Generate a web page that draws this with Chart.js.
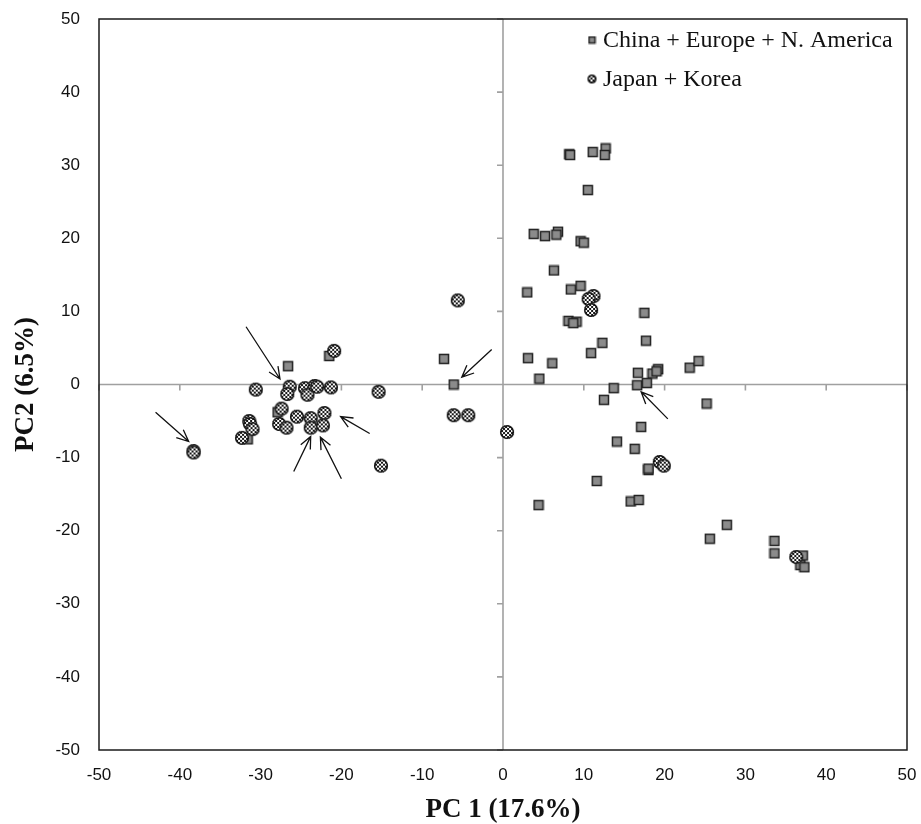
<!DOCTYPE html>
<html>
<head>
<meta charset="utf-8">
<script src="https://cdn.jsdelivr.net/npm/chart.js@4.4.1/dist/chart.umd.min.js"></script>
<style>
html, body { margin: 0; padding: 0; background: #fff; }
#wrap { width: 921px; height: 824px; }
</style>
</head>
<body>
<div id="wrap"><canvas id="pcaChart"></canvas></div>
<script>
// series names
var seriesNames = ["China + Europe + N. America", "Japan + Korea"];

// China + Europe + N. America (squares)
var westX = [-26.6, -21.5, -27.9, -31.6, -7.3, -6.1,
  8.2, 8.3, 11.1, 12.7, 12.6, 10.5,
  3.8, 5.2, 6.8, 6.6, 9.6, 10.0, 6.3,
  3.0, 8.4, 9.6, 17.5, 8.1, 9.1, 8.7,
  12.3, 17.7, 3.1, 6.1, 10.9, 4.5, 16.7, 18.5, 19.2, 19.0, 23.1, 24.2,
  13.7, 16.6, 17.8, 12.5, 25.2, 17.1, 14.1, 16.3,
  18.0, 18.0, 11.6, 15.8, 16.8, 4.4,
  27.7, 25.6, 33.6, 33.6, 37.1, 36.8, 37.3];
var westY = [2.5, 3.9, -3.8, -7.5, 3.5, 0.0,
  31.5, 31.4, 31.8, 32.3, 31.4, 26.6,
  20.6, 20.3, 20.9, 20.5, 19.6, 19.4, 15.6,
  12.6, 13.0, 13.5, 9.8, 8.7, 8.6, 8.4,
  5.7, 6.0, 3.6, 2.9, 4.3, 0.8, 1.6, 1.5, 2.1, 1.8, 2.3, 3.2,
  -0.5, -0.1, 0.2, -2.1, -2.6, -5.8, -7.8, -8.8,
  -11.7, -11.5, -13.2, -16.0, -15.8, -16.5,
  -19.2, -21.1, -21.4, -23.1, -23.4, -24.7, -25.0];

// Japan + Korea (checkered circles)
var eastX = [-5.6, -20.9, -30.6, -26.4, -26.7, -24.5, -24.2, -23.3, -23.0, -21.3,
  -15.4, -6.1, -4.3, 0.5, -27.4, -25.5, -23.8, -22.1, -27.7, -26.8,
  -23.8, -22.3, -31.4, -31.3, -31.0, -32.3, -15.1, -38.3, -38.3,
  11.2, 10.6, 10.9, 19.4, 19.9, 36.3];
var eastY = [11.5, 4.6, -0.7, -0.3, -1.3, -0.5, -1.4, -0.2, -0.3, -0.4,
  -1.0, -4.2, -4.2, -6.5, -3.3, -4.4, -4.6, -3.9, -5.4, -5.9,
  -5.9, -5.6, -5.0, -5.4, -6.1, -7.3, -11.1, -9.1, -9.3,
  12.1, 11.7, 10.2, -10.6, -11.1, -23.6];

// annotation arrows (data units): tail -> head
var arrowFromX = [-31.8, -1.4, -16.5, -25.9, -20.0, -43.0, 20.4];
var arrowFromY = [7.9, 4.8, -6.7, -11.9, -12.9, -3.8, -4.7];
var arrowToX = [-27.6, -5.1, -20.1, -23.8, -22.6, -38.9, 17.1];
var arrowToY = [0.75, 1.0, -4.4, -7.1, -7.2, -7.8, -1.0];

var axisTicks = [-50, -40, -30, -20, -10, 0, 10, 20, 30, 40, 50];

function toPoints(xs, ys) {
  return xs.map(function (x, i) { return { x: x, y: ys[i] }; });
}

function makeSquare(size) {
  var c = document.createElement("canvas");
  c.width = size + 2; c.height = size + 2;
  var g = c.getContext("2d");
  g.fillStyle = "#8b8b8b";
  g.fillRect(1, 1, size, size);
  g.strokeStyle = "#222";
  g.lineWidth = 1.5;
  g.strokeRect(1.5, 1.5, size - 1, size - 1);
  return c;
}

function makeChecker(d) {
  var s = d + 2;
  var c = document.createElement("canvas");
  c.width = s; c.height = s;
  var g = c.getContext("2d");
  g.save();
  g.beginPath();
  g.arc(s / 2, s / 2, d / 2, 0, Math.PI * 2);
  g.clip();
  g.fillStyle = "#fff";
  g.fillRect(0, 0, s, s);
  g.fillStyle = "#161616";
  for (var i = 0; i < s; i += 2) {
    for (var j = 0; j < s; j += 2) {
      if (((i + j) / 2) % 2 === 0) g.fillRect(i, j, 2, 2);
    }
  }
  g.restore();
  g.beginPath();
  g.arc(s / 2, s / 2, d / 2 - 0.7, 0, Math.PI * 2);
  g.lineWidth = 1.6;
  g.strokeStyle = "#141414";
  g.stroke();
  return c;
}

var squareImg = makeSquare(10);
var circleImg = makeChecker(14);
var squareSmall = makeSquare(7);
var circleSmall = makeChecker(9);

var decorPlugin = {
  id: "decor",
  beforeDatasetsDraw: function (chart) {
    var ctx = chart.ctx, a = chart.chartArea;
    var sx = chart.scales.x, sy = chart.scales.y;
    var x0 = sx.getPixelForValue(0), y0 = sy.getPixelForValue(0);
    ctx.save();
    ctx.strokeStyle = "#a0a0a0";
    ctx.lineWidth = 1.6;
    ctx.beginPath();
    ctx.moveTo(a.left, y0); ctx.lineTo(a.right, y0);
    ctx.moveTo(x0, a.top); ctx.lineTo(x0, a.bottom);
    axisTicks.forEach(function (v) {
      var px = sx.getPixelForValue(v), py = sy.getPixelForValue(v);
      ctx.moveTo(px, y0); ctx.lineTo(px, y0 + 6);
      ctx.moveTo(x0 - 6, py); ctx.lineTo(x0, py);
    });
    ctx.stroke();
    ctx.restore();
  },
  afterDatasetsDraw: function (chart) {
    var ctx = chart.ctx, a = chart.chartArea;
    var sx = chart.scales.x, sy = chart.scales.y;
    ctx.save();
    // arrows
    ctx.strokeStyle = "#111";
    ctx.lineWidth = 1.3;
    for (var i = 0; i < arrowFromX.length; i++) {
      var x1 = sx.getPixelForValue(arrowFromX[i]), y1 = sy.getPixelForValue(arrowFromY[i]);
      var x2 = sx.getPixelForValue(arrowToX[i]), y2 = sy.getPixelForValue(arrowToY[i]);
      var ang = Math.atan2(y2 - y1, x2 - x1), hl = 13, spread = 0.42;
      ctx.beginPath();
      ctx.moveTo(x1, y1); ctx.lineTo(x2, y2);
      ctx.moveTo(x2 - hl * Math.cos(ang - spread), y2 - hl * Math.sin(ang - spread));
      ctx.lineTo(x2, y2);
      ctx.lineTo(x2 - hl * Math.cos(ang + spread), y2 - hl * Math.sin(ang + spread));
      ctx.stroke();
    }
    // frame
    ctx.strokeStyle = "#1a1a1a";
    ctx.lineWidth = 1.5;
    ctx.strokeRect(a.left, a.top, a.right - a.left, a.bottom - a.top);
    // legend
    var lx = a.right - 315, ly = a.top + 21;
    var icons = [squareSmall, circleSmall];
    ctx.font = "24px 'Liberation Serif', 'Times New Roman', serif";
    ctx.fillStyle = "#111";
    ctx.textBaseline = "middle";
    ctx.textAlign = "left";
    for (var k = 0; k < seriesNames.length; k++) {
      var yy = ly + k * 39;
      var ic = icons[k];
      ctx.drawImage(ic, lx - ic.width / 2, yy - ic.height / 2);
      ctx.fillText(seriesNames[k], lx + 11, yy + 1);
    }
    ctx.restore();
  }
};

var tickFont = { family: "'Liberation Sans', Arial, sans-serif", size: 17 };
var titleFont = { family: "'Liberation Serif', 'Times New Roman', serif", size: 27, weight: "bold", lineHeight: 1 };

function noEdgePadding(s) {
  s.paddingTop = 0; s.paddingBottom = 0; s.paddingLeft = 0; s.paddingRight = 0;
}

new Chart(document.getElementById("pcaChart"), {
  type: "scatter",
  data: {
    datasets: [
      {
        label: seriesNames[0],
        data: toPoints(westX, westY),
        pointStyle: squareImg,
        pointRadius: 5,
        order: 1
      },
      {
        label: seriesNames[1],
        data: toPoints(eastX, eastY),
        pointStyle: circleImg,
        pointRadius: 7,
        order: 0
      }
    ]
  },
  options: {
    responsive: true,
    maintainAspectRatio: false,
    animation: false,
    devicePixelRatio: 1,
    layout: { padding: { left: 0, right: 14, top: 19, bottom: 0 } },
    plugins: {
      legend: { display: false },
      tooltip: { enabled: false }
    },
    scales: {
      x: {
        type: "linear",
        min: -50, max: 50,
        ticks: { stepSize: 10, font: tickFont, color: "#111", padding: 15, maxRotation: 0 },
        grid: { display: false, drawTicks: false },
        border: { display: false },
        title: { display: true, text: "PC 1 (17.6%)", font: titleFont, color: "#111", padding: { top: 0, bottom: 0 } },
        afterFit: function (s) { s.height = 74; noEdgePadding(s); }
      },
      y: {
        type: "linear",
        min: -50, max: 50,
        ticks: { stepSize: 10, font: tickFont, color: "#111", padding: 19 },
        grid: { display: false, drawTicks: false },
        border: { display: false },
        title: { display: true, text: "PC2 (6.5%)", font: titleFont, color: "#111", padding: { top: 13, bottom: 0 } },
        afterFit: function (s) { s.width = 99; noEdgePadding(s); }
      }
    }
  },
  plugins: [decorPlugin]
});
</script>
</body>
</html>
